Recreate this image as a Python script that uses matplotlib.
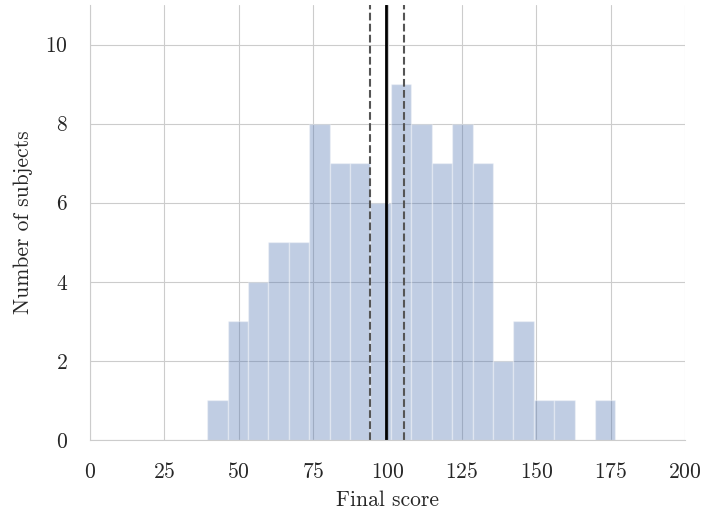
import numpy as np
import matplotlib
matplotlib.use('Agg')
import matplotlib.pyplot as plt
import seaborn as sns

sns.set_style('whitegrid')
plt.rcParams.update({'font.size': 15.5, 'font.family': 'cmr10',
                     'axes.formatter.use_mathtext': True})

# histogram of final scores (20 bins)
score_min = 39.4
score_max = 176.6
counts = [1, 3, 4, 5, 5, 8, 7, 7, 6, 9, 8, 7, 8, 7, 2, 3, 1, 1, 0, 1]
mean_score = 99.6
ci_low = 94.0
ci_high = 105.4

edges = np.linspace(score_min, score_max, len(counts) + 1)
widths = np.diff(edges)

fig = plt.figure(figsize=(7.01, 5.16), dpi=100)
ax = fig.add_axes([0.1284, 0.1473, 0.9772 - 0.1284, 0.9903 - 0.1473])

ax.bar(edges[:-1], counts, width=widths, align='edge', color='#4C72B0',
       alpha=0.35, edgecolor='white', linewidth=1)
ax.axvline(mean_score, color='black', lw=2)
ax.axvline(ci_low, color='#555555', ls='--', lw=1.5)
ax.axvline(ci_high, color='#555555', ls='--', lw=1.5)

ax.set_xlim(0, 200)
ax.set_ylim(0, 11)
ax.set_yticks([0, 2, 4, 6, 8, 10])
ax.set_xlabel('Final score', labelpad=6)
ax.set_ylabel('Number of subjects', labelpad=8.5)
ax.tick_params(axis='both', pad=12.5)
sns.despine(ax=ax)

plt.savefig('out.png', dpi=100)
